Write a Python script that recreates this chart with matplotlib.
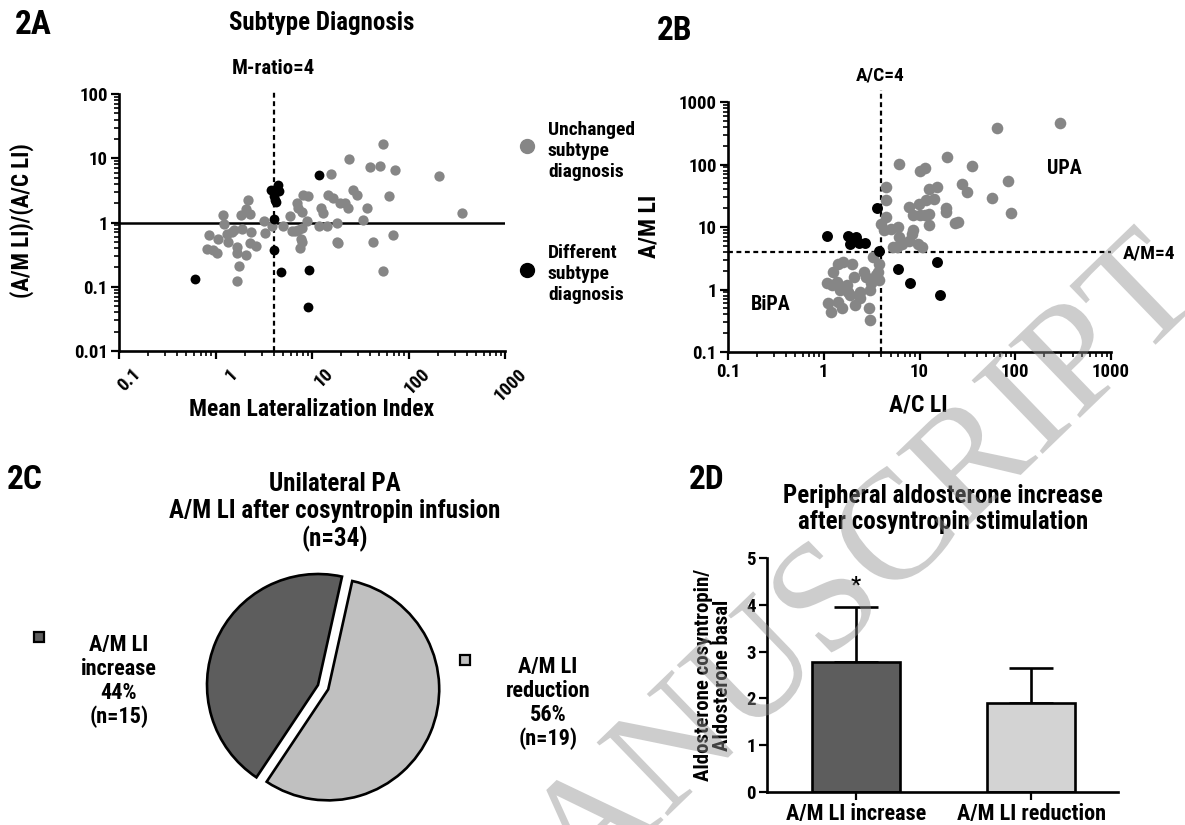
import numpy as np
import matplotlib
matplotlib.use("Agg")
import matplotlib.pyplot as plt
from matplotlib.ticker import FuncFormatter, NullFormatter, LogLocator
from matplotlib.textpath import TextPath
from matplotlib.patches import PathPatch, Rectangle
from matplotlib.font_manager import FontProperties
from matplotlib.transforms import Affine2D, ScaledTranslation
from matplotlib.lines import Line2D

plt.rcParams["font.family"] = ["Roboto Condensed", "DejaVu Sans"]
plt.rcParams["font.stretch"] = "condensed"
plt.rcParams["font.weight"] = "bold"

# ---- 2A: mean lateralization index vs (A/M LI)/(A/C LI)
a_same_x = [0.86, 0.81, 0.95, 1.03, 1.07, 1.20, 1.22, 1.32, 1.36, 1.47,
            1.56, 1.66, 1.66, 1.77, 1.66, 1.87, 1.82, 2.07, 2.07, 2.19,
            2.28, 2.32, 2.28, 2.63, 3.18, 3.26, 3.82, 5.04, 5.92, 6.16,
            6.67, 7.21, 7.82, 7.64, 7.82, 7.51, 6.94, 7.21, 7.82, 8.01,
            9.16, 8.94, 11.9, 12.3, 13.1, 14.2, 14.8, 15.6, 16.4, 18.0,
            18.7, 18.3, 19.5, 22.0, 23.8, 24.0, 26.8, 29.0, 33.5, 36.9,
            39.9, 54.0, 50.7, 72.5, 62.8, 43.2, 69.6, 54.0, 208, 361]
a_same_y = [0.63, 0.385, 0.376, 0.334, 0.557, 1.29, 0.955, 0.667, 0.489, 0.724,
            0.77, 0.423, 0.341, 0.212, 0.124, 0.789, 1.32, 1.63, 0.314, 2.26,
            1.37, 0.724, 0.478, 0.434, 1.07, 0.684, 0.867, 0.867, 1.24, 0.75,
            0.743, 0.77, 0.818, 0.552, 0.489, 0.40, 2.0, 1.68, 1.48, 2.7,
            2.63, 1.04, 0.867, 1.68, 1.40, 0.867, 2.7, 5.73, 2.4, 0.506,
            0.478, 0.98, 2.0, 2.0, 1.68, 9.8, 3.23, 2.7, 1.10, 1.68,
            7.28, 16.6, 7.6, 6.45, 2.54, 0.495, 0.628, 0.179, 5.33, 1.43]
a_diff_x = [0.618, 3.79, 4.03, 4.14, 4.41, 4.55, 4.21, 4.03, 4.03, 4.74, 9.31, 9.1, 11.7]
a_diff_y = [0.130, 3.15, 2.54, 2.26, 3.86, 3.11, 2.12, 1.15, 0.376, 0.169, 0.184, 0.0487, 5.58]

# ---- 2B: A/C LI vs A/M LI
b_same_x = [1.07, 1.23, 1.41, 1.59, 1.95, 1.11, 1.20, 1.41, 1.47, 1.56,
            1.73, 1.80, 1.87, 2.06, 2.11, 2.38, 2.38, 2.62, 2.79, 3.03,
            2.98, 3.03, 3.15, 3.28, 3.55, 3.79, 3.79, 3.70, 1.25, 1.36, 1.59,
            4.52, 4.52, 4.0, 4.45, 4.24, 5.09, 5.98, 6.12, 5.3, 5.85,
            6.64, 7.8, 8.25, 8.6, 9.7, 10.7, 6.12, 10.1, 11.4, 12.6,
            15.1, 7.8, 9.8, 11.8, 14.1, 12.6, 12.6, 11.4, 8.6, 10.1,
            293, 65, 19.5, 35, 84.5, 89.5, 56.8, 27.6, 31.6, 23.5, 25.4, 18.9, 18.9]
b_same_y = [1.28, 1.17, 2.6, 2.76, 2.6, 0.60, 0.44, 0.64, 0.98, 0.50,
            1.17, 0.92, 0.81, 1.59, 0.56, 0.92, 0.72, 1.91, 1.59, 0.98,
            0.50, 0.33, 1.25, 3.3, 1.69, 1.41, 2.6, 1.91, 1.91, 1.32, 1.1,
            43.5, 26.7, 11.3, 14.5, 8.85, 9.4, 10.0, 6.9, 4.8, 4.8,
            5.3, 6.0, 7.6, 8.85, 5.3, 4.8, 102, 80, 88, 41,
            43.5, 20.8, 23.6, 26.7, 28.3, 16.3, 10.6, 15.4, 15.4, 15.4,
            456, 380, 130, 95, 55, 16.6, 29.4, 48, 36.7, 11.7, 11.9, 19.9, 17.6]
b_diff_x = [1.09, 1.79, 1.90, 2.19, 2.32, 2.68, 3.6, 3.78, 5.98, 8.05, 15.1, 16.3]
b_diff_y = [7.1, 7.1, 5.4, 6.9, 5.6, 5.6, 20.4, 4.2, 2.1, 1.29, 2.76, 0.81]

# ---- 2C: pie
pie_counts = [15, 19]
pie_labels = ["A/M LI\nincrease\n44%\n(n=15)", "A/M LI\nreduction\n56%\n(n=19)"]

# ---- 2D: bars
bar_labels = ["A/M LI increase", "A/M LI reduction"]
bar_means = [2.77, 1.91]
bar_err = [1.18, 0.75]

GRAY = "#868686"
DARK = "#5d5d5d"
PIE_LIGHT = "#c0c0c0"
BAR_LIGHT = "#d3d3d3"

W, H = 1185, 825
fig = plt.figure(figsize=(W / 100, H / 100), dpi=100)


def fx(px):
    return px / W


def fy(py):
    return 1 - py / H


def axes_px(left, top, right, bottom):
    return fig.add_axes([fx(left), fy(bottom), (right - left) / W, (bottom - top) / H])


def ftext(px, py, s, **kw):
    kw.setdefault("ha", "center")
    kw.setdefault("va", "center")
    kw.setdefault("fontweight", "bold")
    return fig.text(fx(px), fy(py), s, **kw)


def style_log(ax):
    ax.set_xscale("log")
    ax.set_yscale("log")
    for s in ["top", "right"]:
        ax.spines[s].set_visible(False)
    for s in ["left", "bottom"]:
        ax.spines[s].set_linewidth(1.9)
    fmt = FuncFormatter(lambda v, p: f"{v:g}")
    for axis in (ax.xaxis, ax.yaxis):
        axis.set_major_locator(LogLocator(base=10, numticks=12))
        axis.set_minor_locator(LogLocator(base=10, subs=np.arange(2, 10), numticks=30))
        axis.set_major_formatter(fmt)
        axis.set_minor_formatter(NullFormatter())
    ax.tick_params(which="major", length=6, width=1.6, labelsize=13.5, pad=2)
    ax.tick_params(which="minor", length=3.5, width=1.2)
    for lbl in ax.get_xticklabels() + ax.get_yticklabels():
        lbl.set_fontweight("bold")


DASH = (0, (2.2, 1.6))

# 2A
ax_a = axes_px(119, 94, 505, 351)
style_log(ax_a)
ax_a.set_xlim(0.1, 1000)
ax_a.set_ylim(0.01, 100)
ax_a.axhline(1, color="black", lw=1.8, zorder=1)
ax_a.axvline(4, ymax=1.012, color="black", lw=1.6, ls=DASH, zorder=1, clip_on=False)
ax_a.scatter(a_same_x, a_same_y, s=55, color=GRAY, lw=0, zorder=3)
ax_a.scatter(a_diff_x, a_diff_y, s=50, color="black", lw=0, zorder=4)
shift = ScaledTranslation(9 / 72, -2 / 72, fig.dpi_scale_trans)
for lbl in ax_a.get_xticklabels():
    lbl.set_rotation(45)
    lbl.set_ha("right")
    lbl.set_va("top")
    lbl.set_rotation_mode("anchor")
    lbl.set_transform(lbl.get_transform() + shift)
ftext(15, 25, "2A", fontsize=24, ha="left")
ftext(322, 23, "Subtype Diagnosis", fontsize=18)
ftext(273, 68, "M-ratio=4", fontsize=15)
ftext(312, 410, "Mean Lateralization Index", fontsize=17)
ftext(22, 221, "(A/M LI)/(A/C LI)", fontsize=16.5, rotation=90)

# 2A legend
fig.add_artist(Line2D([fx(527)], [fy(146)], marker="o", ms=10, color=GRAY, lw=0,
                      transform=fig.transFigure))
fig.add_artist(Line2D([fx(527)], [fy(270)], marker="o", ms=10, color="black", lw=0,
                      transform=fig.transFigure))
ftext(548, 151, "Unchanged\nsubtype\ndiagnosis", fontsize=14, ha="left", linespacing=1.2)
ftext(548, 274, "Different\nsubtype\ndiagnosis", fontsize=14, ha="left", linespacing=1.2)

# 2B
ax_b = axes_px(728, 102, 1111, 352)
style_log(ax_b)
ax_b.set_xlim(0.1, 1000)
ax_b.set_ylim(0.1, 1000)
ax_b.axhline(4, color="black", lw=1.6, ls=DASH, zorder=1)
ax_b.axvline(4, ymax=1.05, color="black", lw=1.6, ls=DASH, zorder=1, clip_on=False)
ax_b.scatter(b_same_x, b_same_y, s=70, color=GRAY, lw=0, zorder=3)
ax_b.scatter(b_diff_x, b_diff_y, s=62, color="black", lw=0, zorder=4)
ftext(657, 31, "2B", fontsize=24, ha="left")
ftext(880, 75, "A/C=4", fontsize=14)
ftext(1123, 253, "A/M=4", fontsize=14, ha="left")
ftext(1064, 168, "UPA", fontsize=14.5)
ftext(771, 305, "BiPA", fontsize=14.5)
ftext(918, 405, "A/C LI", fontsize=17)
ftext(649, 226, "A/M LI", fontsize=17, rotation=90)

# 2C
ax_c = axes_px(318 - 138.75, 685 - 138.75, 318 + 138.75, 685 + 138.75)
ax_c.pie(pie_counts, colors=[DARK, PIE_LIGHT], startangle=77.5, counterclock=True,
         explode=[0, 0.1], wedgeprops=dict(edgecolor="black", linewidth=1.9))
ax_c.set_xlim(-1.25, 1.25)
ax_c.set_ylim(-1.25, 1.25)
ftext(7, 480, "2C", fontsize=24, ha="left")
ftext(335, 512, "Unilateral PA\nA/M LI after cosyntropin infusion\n(n=34)", fontsize=18,
      linespacing=1.12)
for (sx, sy), col in zip([(39, 637), (465, 660)], [DARK, PIE_LIGHT]):
    fig.add_artist(Rectangle((fx(sx - 5), fy(sy + 5)), 10 / W, 10 / H, facecolor=col,
                             edgecolor="black", lw=1.6, transform=fig.transFigure))
ftext(119, 681, pie_labels[0], fontsize=16, linespacing=1.12)
ftext(548, 703, pie_labels[1], fontsize=16, linespacing=1.12)

# 2D
ax_d = axes_px(767, 558, 1118, 792)
xpos = np.arange(len(bar_means))
ax_d.bar(xpos, bar_means, width=0.503, color=[DARK, BAR_LIGHT], edgecolor="black",
         linewidth=1.9, zorder=2)
ax_d.errorbar(xpos, bar_means, yerr=[np.zeros(len(bar_err)), bar_err], fmt="none",
              ecolor="black", elinewidth=1.9, capsize=15.5, capthick=1.9, zorder=1)
ax_d.set_xlim(-0.509, 1.497)
ax_d.set_ylim(0, 5)
ax_d.set_yticks(range(6))
ax_d.set_xticks(xpos)
for s in ["top", "right"]:
    ax_d.spines[s].set_visible(False)
for s in ["left", "bottom"]:
    ax_d.spines[s].set_linewidth(1.9)
ax_d.tick_params(length=6, width=1.6, labelsize=13.5, pad=2)
ax_d.set_xticklabels(bar_labels, fontsize=16, fontweight="bold")
for lbl in ax_d.get_yticklabels():
    lbl.set_fontweight("bold")
ax_d.set_ylabel("Aldosterone cosyntropin/\nAldosterone basal", fontsize=15,
                fontweight="bold", labelpad=10, linespacing=1.05)
ax_d.text(xpos[0], 4.42, "*", ha="center", va="center", fontsize=16, fontweight="bold")
ftext(689, 480, "2D", fontsize=24, ha="left")
ftext(943, 509, "Peripheral aldosterone increase\nafter cosyntropin stimulation",
      fontsize=18, linespacing=1.1)

# watermark
wm = TextPath((0, 0), "ACCEPTED MANUSCRIPT", size=156,
              prop=FontProperties(family=["Liberation Serif", "DejaVu Serif"], weight="normal"))
wm_w = wm.get_extents().x1
wm_tr = Affine2D().translate(-wm_w, 0).rotate_deg(44).translate(1205, 528)
fig.add_artist(PathPatch(wm, transform=wm_tr, facecolor="#919191", alpha=0.45, lw=0,
                         zorder=100))

fig.savefig("out.png", dpi=100)
